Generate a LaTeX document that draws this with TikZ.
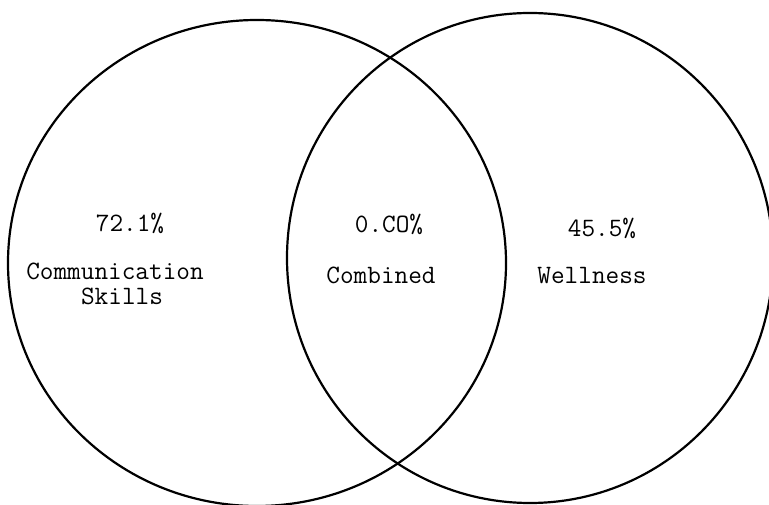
\documentclass[tikz,border=0pt]{standalone}
\usepackage{fontspec}
\usepackage{tikz}

\begin{document}
\begin{tikzpicture}[x=1pt,y=-1pt,line width=2.2pt,
  lbl/.style={anchor=base,inner sep=0pt,font=\ttfamily\fontsize{26.5}{30}\selectfont}]

\useasboundingbox (0,0) rectangle (769,505);

\begin{scope}

\clip (0,0) -- (769,0) -- (769,505) -- (0,505) -- cycle;

\draw [black] (257,263) ellipse [x radius=249,y radius=243];
\draw [black] (530,258) ellipse [x radius=243,y radius=245];

\end{scope}

\node [lbl] (commpct) at (130,232) {72.1\%};
\node [lbl] (commname) at (115,280) {Communication};
\node [lbl] (commname2) at (122,305) {Skills};

\node [lbl] (bothpct) at (389,233) {0.CO\%};
\node [lbl] (bothname) at (381,284) {Combined};

\node [lbl] (wellpct) at (602,237) {45.5\%};
\node [lbl] (wellname) at (592,284) {Wellness};

\end{tikzpicture}
\end{document}
